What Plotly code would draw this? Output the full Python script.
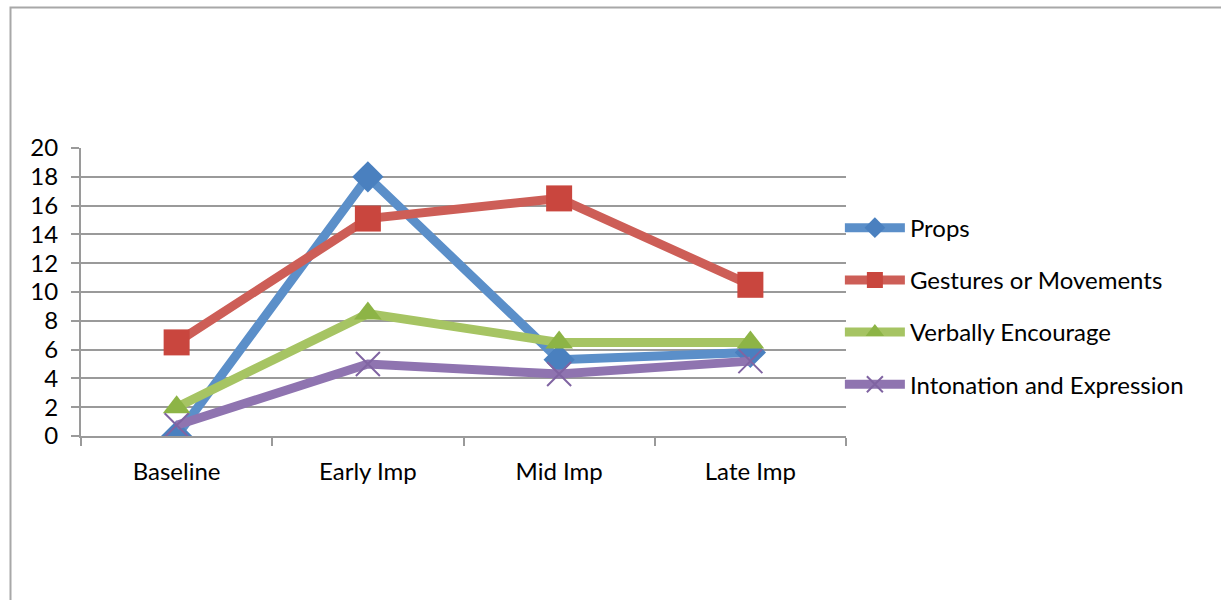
import plotly.graph_objects as go

# Observation phases and coded counts per strategy
phases = ["Baseline", "Early Imp", "Mid Imp", "Late Imp"]
props = [0, 18, 5.3, 5.8]
gestures = [6.5, 15.1, 16.5, 10.5]
verbal = [2, 8.5, 6.5, 6.5]
intonation = [0.75, 5, 4.3, 5.2]

series = [
    ("Props", props, "#5B8FC9", "diamond", "#4A80BF", 24),
    ("Gestures or Movements", gestures, "#CD5E57", "square", "#C9463E", 26),
    ("Verbally Encourage", verbal, "#A6C463", "triangle-up", "#8DB446", 24),
    ("Intonation and Expression", intonation, "#8F74B0", "x-thin", "#8064A2", 24),
]

FONT = "Lato"
FS = 24

fig = go.Figure()
for i, (name, vals, lc, sym, mc, ms) in enumerate(series):
    marker = dict(symbol=sym, size=ms, color=mc)
    if sym == "x-thin":
        marker["line"] = dict(color=mc, width=2)
    else:
        marker["line"] = dict(color=mc, width=0)
    fig.add_trace(go.Scatter(
        x=phases, y=vals, name=name, mode="lines+markers",
        line=dict(color=lc, width=9), marker=marker,
        legendgroup=f"g{i}",
    ))

L, R, T, B = 81, 375, 148, 164
W, H = 1221, 600
pw, ph = W - L - R, H - T - B

fig.update_layout(
    width=W, height=H,
    margin=dict(l=L, r=R, t=T, b=B),
    paper_bgcolor="white", plot_bgcolor="white",
    font=dict(family=FONT, size=FS, color="black"),
    showlegend=True,
    legend=dict(
        x=0.992, xanchor="left", y=0.80, yanchor="top",
        font=dict(family=FONT, size=FS, color="black"),
        tracegroupgap=18, itemwidth=60, bgcolor="rgba(0,0,0,0)",
    ),
    xaxis=dict(
        type="category", tickson="boundaries", showgrid=False,
        range=[-0.5, 3.5],
        showline=True, linecolor="#9A9A9A", linewidth=2,
        ticks="outside", ticklen=8, tickcolor="#9A9A9A", tickwidth=2,
        ticklabelstandoff=13,
        tickfont=dict(family=FONT, size=FS), fixedrange=True,
    ),
    yaxis=dict(
        range=[0, 20], tick0=0, dtick=2,
        showgrid=True, gridcolor="#9A9A9A", gridwidth=2,
        showline=True, linecolor="#9A9A9A", linewidth=2,
        ticks="outside", ticklen=8, tickcolor="#9A9A9A", tickwidth=2,
        ticklabelstandoff=8,
        tickfont=dict(family=FONT, size=FS), zeroline=False,
    ),
    shapes=[
        # chart-area frame (left and top edges visible)
        dict(type="rect", xref="paper", yref="paper",
             x0=(10.5 - L) / pw, x1=(W + 5 - L) / pw,
             y0=-(H + 5 - T - ph) / ph, y1=1 + (T - 7.5) / ph,
             line=dict(color="#A8A8A8", width=2), layer="below"),
    ],
)

fig.write_html("out.html")
